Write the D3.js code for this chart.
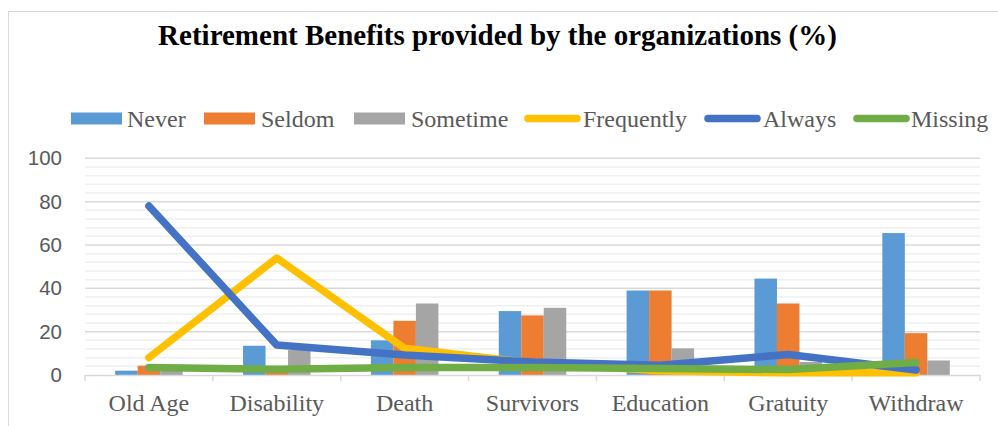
<!DOCTYPE html>
<html><head><meta charset="utf-8">
<script src="https://cdn.jsdelivr.net/npm/d3@7"></script>
<style>body{margin:0;background:#fff}svg{display:block}</style>
</head><body>
<svg id="c" width="998" height="426"></svg>
<script>
const categories = ["Old Age","Disability","Death","Survivors","Education","Gratuity","Withdraw"];
const never     = [2, 13.5, 16, 29.5, 39, 44.5, 65.5];
const seldom    = [4.3, 4, 25, 27.5, 39, 33, 19.3];
const sometime  = [3, 11.5, 33, 31, 12.3, 6, 6.7];
const frequently= [8, 54, 12.3, 5.5, 2, 1, 1];
const always    = [78, 13.8, 9.2, 6, 4.5, 9.5, 2.3];
const missing   = [3.5, 2.6, 3.5, 3.5, 3, 2.5, 5.8];
const yTicks = [0,20,40,60,80,100];
const title = "Retirement Benefits provided by the organizations (%)";

const barSeries = [
  {name:"Never", values:never, color:"#5B9BD5"},
  {name:"Seldom", values:seldom, color:"#ED7D31"},
  {name:"Sometime", values:sometime, color:"#A5A5A5"}];
const lineSeries = [
  {name:"Frequently", values:frequently, color:"#FFC000"},
  {name:"Always", values:always, color:"#4472C4"},
  {name:"Missing", values:missing, color:"#70AD47"}];

const svg = d3.select("#c");
// chart border
svg.append("rect").attr("x",8.5).attr("y",11.5).attr("width",1000).attr("height",430)
  .attr("fill","none").attr("stroke","#D9D9D9").attr("stroke-width",1);

const m = {left:85, right:980, top:158.3, bottom:375};
const x = d3.scaleBand().domain(categories).range([m.left, m.right]).paddingInner(0).paddingOuter(0);
const y = d3.scaleLinear().domain([0,100]).range([m.bottom, m.top]);
const xs = d3.scaleBand().domain(barSeries.map(s=>s.name)).range([0, 67.5]);
const barOff = (x.bandwidth()-67.5)/2;

// minor gridlines
const minor = d3.range(0,101,4).filter(v=>v%20!==0);
svg.append("g").selectAll("line").data(minor).join("line")
  .attr("x1",m.left).attr("x2",m.right).attr("y1",d=>y(d)).attr("y2",d=>y(d))
  .attr("stroke","#EFEFEF").attr("stroke-width",1.5);
// major gridlines
svg.append("g").selectAll("line").data(yTicks.filter(v=>v>0)).join("line")
  .attr("x1",m.left).attr("x2",m.right).attr("y1",d=>y(d)).attr("y2",d=>y(d))
  .attr("stroke","#D9D9D9").attr("stroke-width",1.5);

// y axis labels
const yAxis = d3.axisLeft(y).tickValues(yTicks).tickSize(0).tickPadding(23);
const ya = svg.append("g").attr("transform",`translate(${m.left},0)`).call(yAxis);
ya.select(".domain").remove();
ya.selectAll("text").attr("font-family","'Liberation Sans', Arial, sans-serif")
  .attr("font-size",20.5).attr("fill","#595959");

// bars
barSeries.forEach(s=>{
  svg.append("g").selectAll("rect").data(categories).join("rect")
    .attr("x",(c)=>x(c)+barOff+xs(s.name))
    .attr("width",xs.bandwidth())
    .attr("y",(c,i)=>y(s.values[i]))
    .attr("height",(c,i)=>y(0)-y(s.values[i]))
    .attr("fill",s.color);
});

// x axis
const xAxis = d3.axisBottom(x).tickSize(0).tickPadding(19);
const xa = svg.append("g").attr("transform",`translate(0,${m.bottom})`).call(xAxis);
xa.select(".domain").attr("stroke","#D9D9D9").attr("stroke-width",1.5);
xa.selectAll("text").attr("font-family","'Liberation Serif','Times New Roman',serif")
  .attr("font-size",24).attr("fill","#595959");
const bounds = categories.map(c=>x(c)).concat([m.right]);
svg.append("g").selectAll("line").data(bounds).join("line")
  .attr("x1",d=>d).attr("x2",d=>d).attr("y1",m.bottom).attr("y2",m.bottom+6)
  .attr("stroke","#D9D9D9").attr("stroke-width",1.5);

// lines
const line = d3.line().x((d,i)=>x(categories[i])+x.bandwidth()/2).y(d=>y(d));
lineSeries.forEach(s=>{
  svg.append("path").datum(s.values).attr("d",line).attr("fill","none")
    .attr("stroke",s.color).attr("stroke-width",7.5)
    .attr("stroke-linecap","round").attr("stroke-linejoin","round");
});

// title
svg.append("text").attr("x",497.5).attr("y",45).attr("text-anchor","middle")
  .attr("font-family","'Liberation Serif','Times New Roman',serif").attr("font-weight","bold")
  .attr("font-size",29).attr("fill","#000").text(title);

// legend
const legendItems = [
  {s:barSeries[0], x:71, tx:127, type:"bar"},
  {s:barSeries[1], x:204, tx:261, type:"bar"},
  {s:barSeries[2], x:354, tx:411, type:"bar"},
  {s:lineSeries[0], x:524, tx:583, type:"line"},
  {s:lineSeries[1], x:704, tx:763, type:"line"},
  {s:lineSeries[2], x:853, tx:911, type:"line"}];
const lg = svg.append("g");
legendItems.forEach(it=>{
  if(it.type==="bar"){
    lg.append("rect").attr("x",it.x).attr("y",112.5).attr("width",51).attr("height",12).attr("fill",it.s.color);
  } else {
    lg.append("line").attr("x1",it.x+4).attr("x2",it.x+53).attr("y1",118.5).attr("y2",118.5)
      .attr("stroke",it.s.color).attr("stroke-width",7.5).attr("stroke-linecap","round");
  }
  lg.append("text").attr("x",it.tx).attr("y",126.5)
    .attr("font-family","'Liberation Serif','Times New Roman',serif").attr("font-size",24)
    .attr("fill","#595959").text(it.s.name);
});
</script>
</body></html>
